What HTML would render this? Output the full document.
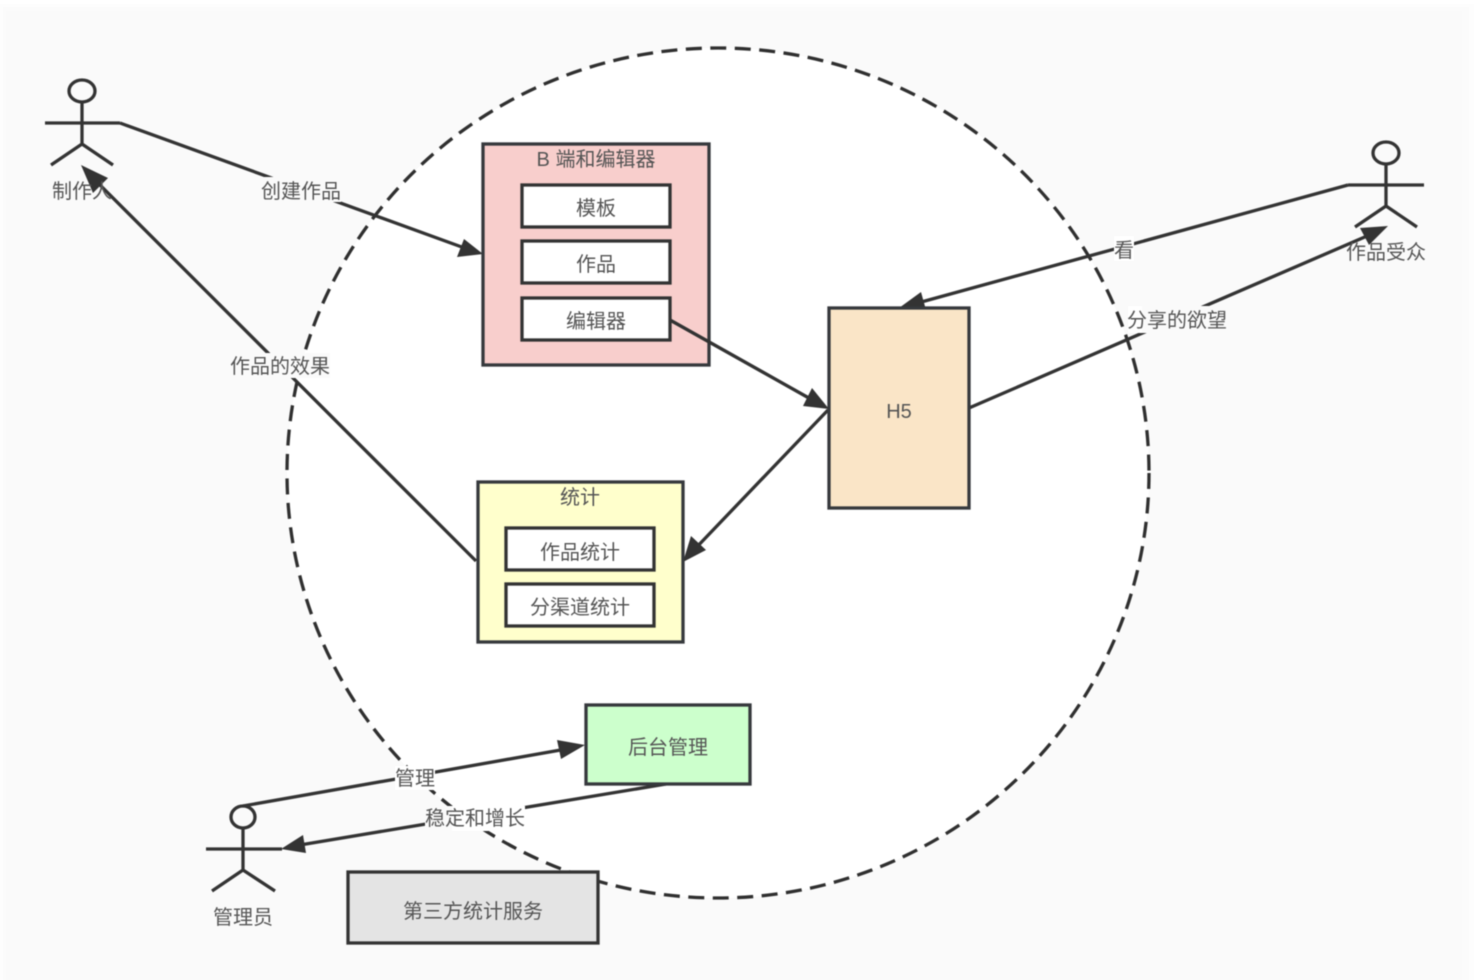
<!DOCTYPE html>
<html><head><meta charset="utf-8"><style>
html,body{margin:0;padding:0;background:#fff}
svg{display:block}
text{font-family:"Liberation Sans","Noto Sans CJK SC",sans-serif;font-size:20px;fill:#555;text-anchor:middle}
</style></head><body>
<svg width="1474" height="980" viewBox="0 0 1474 980" xmlns="http://www.w3.org/2000/svg">
<rect x="0" y="4" width="1474" height="976" fill="#fdfdfd"/>
<rect x="3" y="7" width="1466" height="973" fill="#fbfbfb"/>
<rect x="6" y="11" width="1456" height="969" fill="#fafafa"/>
<g style="filter:blur(.4px)">
<ellipse cx="718" cy="473" rx="431" ry="425" fill="#fff" stroke="#2f2f2f" stroke-width="3.3" stroke-dasharray="16 8.5"/>
<g fill="none" stroke="#333" stroke-width="3.3">
<!-- actor 1 -->
<ellipse cx="82" cy="91" rx="13" ry="11"/>
<path d="M82 102V144M45 123H120M82 144L51 165M82 144L113 165"/>
<!-- actor 2 -->
<ellipse cx="1386" cy="153" rx="13" ry="11"/>
<path d="M1386 164V206M1348 185H1424M1386 206L1355 227M1386 206L1417 227"/>
<!-- actor 3 -->
<ellipse cx="243" cy="817" rx="12" ry="11"/>
<path d="M243 828V870M206 849H282M243 870L212 891M243 870L275 891"/>
<!-- connectors -->
<path d="M120 123L470 250"/>
<path d="M476 561L92 177"/>
<path d="M828 410L692 552"/>
<path d="M1348 185L914 304"/>
<path d="M969 408L1374 233"/>
<path d="M243 806L572 748"/>
<path d="M666 784L294 846"/>
</g>
<g fill="#333">
<path d="M483 254L457 257L464 239Z"/>
<path d="M81 165L108 178L93 193Z"/>
<path d="M683 562L691 536L706 550Z"/>
<path d="M899 308L921 292L926 310Z"/>
<path d="M1388 226L1369 245L1360 228Z"/>
<path d="M585 745L561 759L557 740Z"/>
<path d="M281 849L303 835L306 853Z"/>
</g>
<!-- B -->
<rect x="483" y="144" width="226" height="221" fill="#f8cecc" stroke="#36393d" stroke-width="3.3"/>
<rect x="522" y="185" width="148" height="42" fill="#fff" stroke="#333" stroke-width="3.3"/>
<rect x="522" y="241" width="148" height="42" fill="#fff" stroke="#333" stroke-width="3.3"/>
<rect x="522" y="298" width="148" height="42" fill="#fff" stroke="#333" stroke-width="3.3"/>
<!-- stats -->
<rect x="478" y="482" width="205" height="160" fill="#ffffcc" stroke="#36393d" stroke-width="3.3"/>
<rect x="506" y="528" width="148" height="42" fill="#fff" stroke="#333" stroke-width="3.3"/>
<rect x="506" y="584" width="148" height="42" fill="#fff" stroke="#333" stroke-width="3.3"/>
<!-- H5 -->
<rect x="829" y="308" width="140" height="200" fill="#fae5c7" stroke="#36393d" stroke-width="3.3"/>
<!-- connector over B box -->
<path d="M670 320L816 402" fill="none" stroke="#333" stroke-width="3.3"/>
<path d="M829 409L803 406L812 388Z" fill="#333"/>
<!-- admin -->
<rect x="586" y="705" width="164" height="79" fill="#ccffcc" stroke="#36393d" stroke-width="3.3"/>
<!-- third -->
<rect x="348" y="872" width="250" height="71" fill="#e4e4e4" stroke="#333" stroke-width="3.3"/>
<!-- label backgrounds -->
<rect x="261" y="177" width="80" height="25" fill="#fafafa"/>
<rect x="229" y="353" width="101" height="25" fill="#fafafa"/>
<rect x="1114" y="236" width="20" height="25" fill="#fff"/>
<rect x="1128" y="306" width="99" height="27" fill="#fafafa"/>
<rect x="1128" y="306" width="14" height="27" fill="#fff"/>
<rect x="395" y="766" width="40" height="24" fill="#fff"/>
<rect x="425" y="806" width="100" height="25" fill="#fff"/>
<path d="M425 806H452V831H425Z" fill="#fafafa"/>
<!-- text -->
<text x="596" y="166">B 端和编辑器</text>
<text x="596" y="215">模板</text>
<text x="596" y="271">作品</text>
<text x="596" y="328">编辑器</text>
<text x="580" y="504">统计</text>
<text x="580" y="559">作品统计</text>
<text x="580" y="614">分渠道统计</text>
<text x="899" y="418">H5</text>
<text x="668" y="754">后台管理</text>
<text x="473" y="918">第三方统计服务</text>
<text x="82" y="198">制作人</text>
<text x="1386" y="259">作品受众</text>
<text x="243" y="924">管理员</text>
<text x="301" y="198">创建作品</text>
<text x="280" y="373">作品的效果</text>
<text x="1124" y="257">看</text>
<text x="1177" y="327">分享的欲望</text>
<text x="415" y="785">管理</text>
<text x="475" y="825">稳定和增长</text>
</g>
</svg>
</body></html>
